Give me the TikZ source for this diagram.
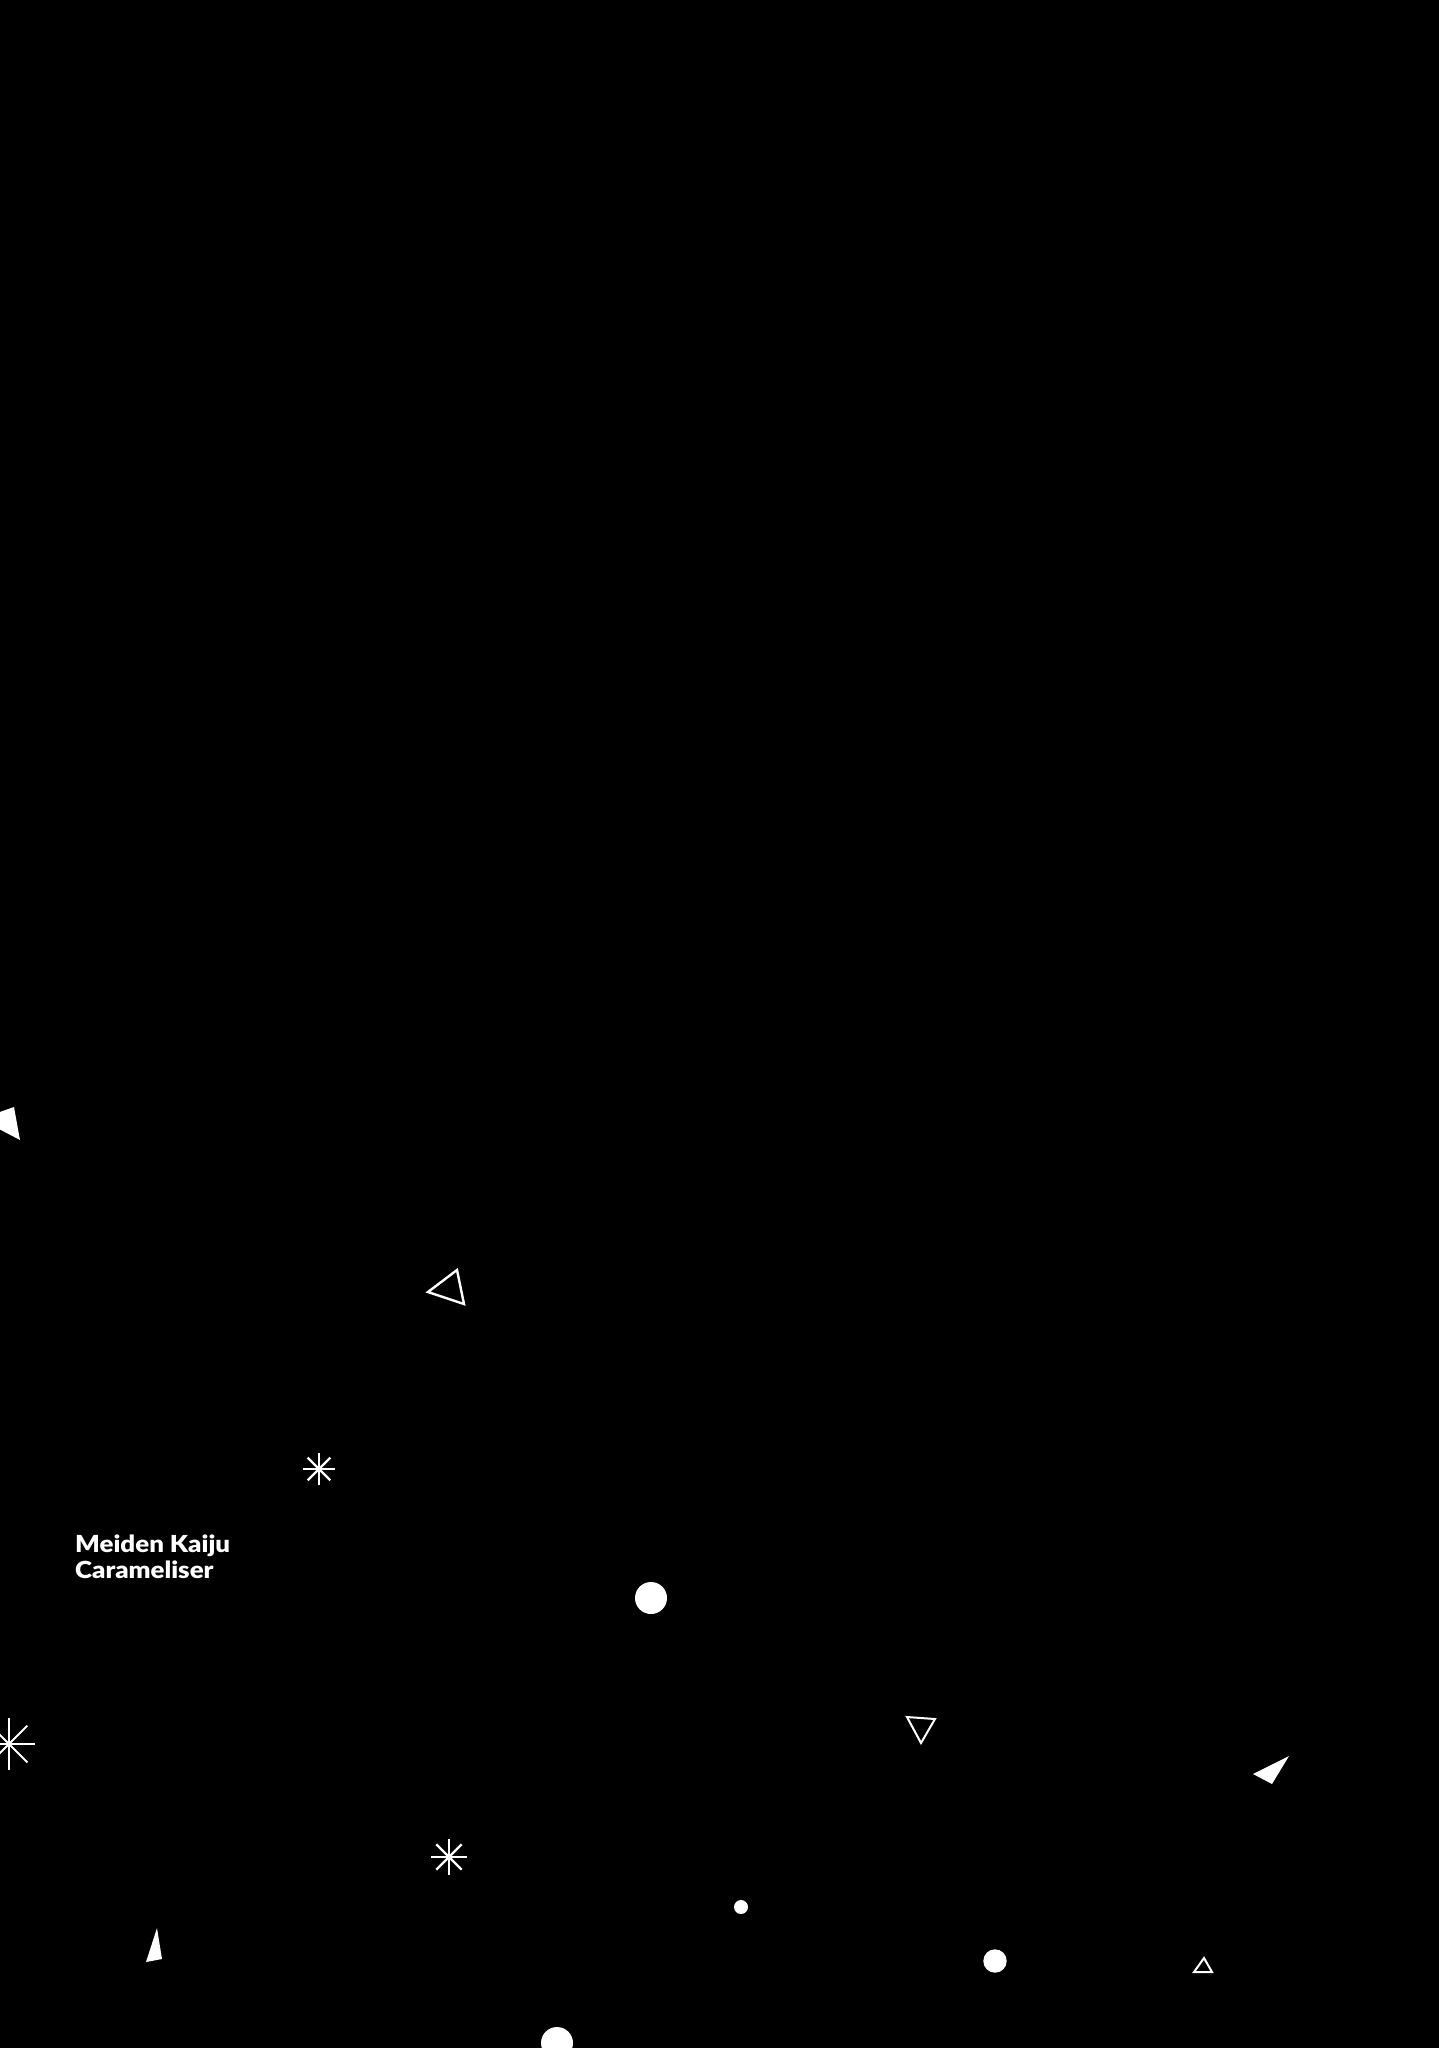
\documentclass[tikz,border=0pt]{standalone}
\usepackage{fontspec}
\setmainfont{Lato}[BoldFont={Lato Black},BoldFeatures={FakeStretch=1.1}]
\begin{document}
\begin{tikzpicture}[x=1pt,y=-1pt,
  solidshape/.style={fill=white,draw=none},
  hollowshape/.style={draw=white,line width=2.4pt,line join=miter,fill=none},
  starshape/.style={draw=white,line width=2.4pt},
  caption/.style={text=white,font=\bfseries\fontsize{23.5}{26}\selectfont,anchor=base west,inner sep=0pt}]
\fill[black] (0,0) rectangle (1439,2048);
\useasboundingbox (0,0) rectangle (1439,2048);
\clip (0,0) rectangle (1439,2048);
% filled triangles
\fill[solidshape] (-20,1119) -- (14,1107) -- (20,1140) -- cycle;
\fill[solidshape] (1289,1756) -- (1253,1774) -- (1272,1784) -- cycle;
\fill[solidshape] (157,1928) -- (146,1962) -- (162,1959) -- cycle;
% outline triangles
\draw[hollowshape] (457,1270) -- (428,1292) -- (464,1304) -- cycle;
\draw[hollowshape,line width=2pt] (907,1717) -- (935,1719) -- (921,1743) -- cycle;
\draw[hollowshape,line width=2pt] (1204,1958) -- (1194,1972) -- (1212,1972) -- cycle;
% circles
\fill[white] (651,1598) circle (16);
\fill[white] (741,1907) circle (7);
\fill[white] (995,1961) circle (11.7);
\fill[white] (557,2043) circle (16);
% asterisks
\foreach \cx/\cy/\r/\w in {319/1469/16/2.4, 9/1744/26/2, 449/1857/18/2.4}{
  \foreach \a in {0,45,90,135}{
    \draw[starshape,line width=\w pt,shift={(\cx,\cy)}] (\a:\r) -- (\a+180:\r);
  }
}
% text
\node[caption] (label1) at (75,1552) {Meiden Kaiju};
\node[caption] (label2) at (75,1578) {Carameliser};
\end{tikzpicture}
\end{document}
